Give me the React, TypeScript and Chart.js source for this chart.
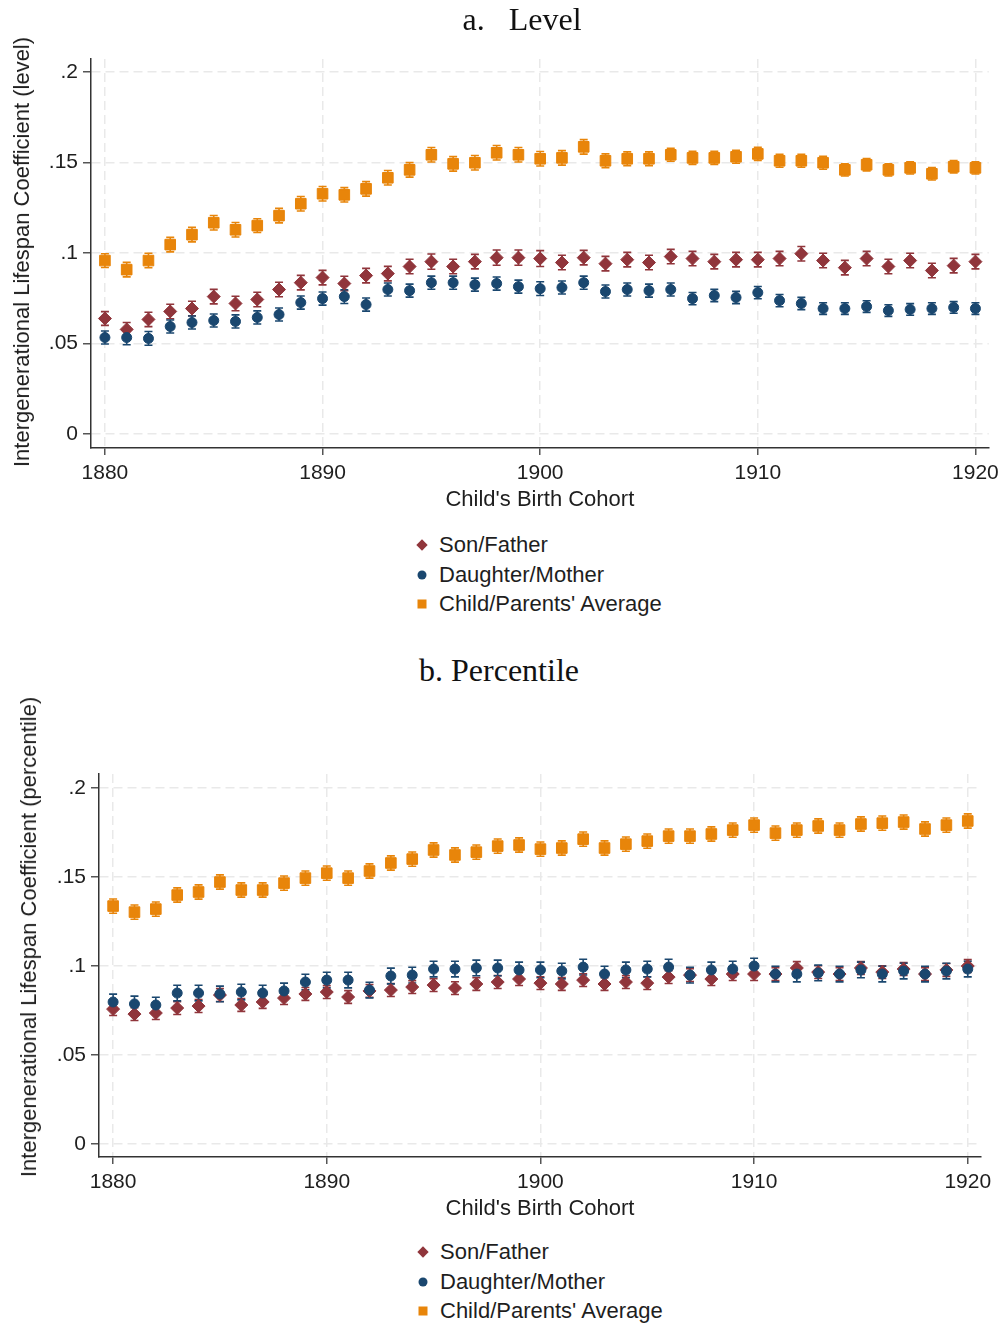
import React, { useEffect, useRef } from "react";
import { Chart, registerables } from "chart.js";

Chart.register(...registerables);

// ---------- data ----------
const YEARS = [
  1880, 1881, 1882, 1883, 1884, 1885, 1886, 1887, 1888, 1889,
  1890, 1891, 1892, 1893, 1894, 1895, 1896, 1897, 1898, 1899,
  1900, 1901, 1902, 1903, 1904, 1905, 1906, 1907, 1908, 1909,
  1910, 1911, 1912, 1913, 1914, 1915, 1916, 1917, 1918, 1919, 1920,
];

const SERIES_LABELS = ["Son/Father", "Daughter/Mother", "Child/Parents' Average"];

const X_TICKS = [1880, 1890, 1900, 1910, 1920];
const Y_TICKS = [0, 0.05, 0.1, 0.15, 0.2];
const Y_TICK_LABELS = ["0", ".05", ".1", ".15", ".2"];

const PANEL_TITLES = ["a.   Level", "b. Percentile"];
const Y_TITLES = [
  "Intergenerational Lifespan Coefficient (level)",
  "Intergenerational Lifespan Coefficient (percentile)",
];
const X_TITLE = "Child's Birth Cohort";

// Panel a: level
const LEVEL_SON = [
  0.0639, 0.0579, 0.0634, 0.0678, 0.0694, 0.076, 0.0722, 0.0744, 0.0799, 0.0837,
  0.0865, 0.0832, 0.0876, 0.0887, 0.0926, 0.0953, 0.0926, 0.0953, 0.0975, 0.0975,
  0.097, 0.0948, 0.0975, 0.0942, 0.0964, 0.0948, 0.0981, 0.097, 0.0953, 0.0964,
  0.0964, 0.097, 0.0997, 0.0959, 0.092, 0.097, 0.0926, 0.0959, 0.0904, 0.0931, 0.0953,
];
const LEVEL_DAUGHTER = [
  0.0534, 0.0534, 0.0529, 0.0595, 0.0617, 0.0628, 0.0623, 0.0645, 0.0661, 0.0727,
  0.0749, 0.076, 0.0716, 0.0799, 0.0793, 0.0837, 0.0837, 0.0826, 0.0832, 0.0815,
  0.0804, 0.081, 0.0837, 0.0788, 0.0799, 0.0793, 0.0799, 0.0749, 0.0766, 0.0755,
  0.0782, 0.0738, 0.0722, 0.0694, 0.0694, 0.0705, 0.0683, 0.0689, 0.0694, 0.07, 0.0694,
];
const LEVEL_AVG = [
  0.0959, 0.0909, 0.0959, 0.1047, 0.1102, 0.1168, 0.1129, 0.1152, 0.1207, 0.1273,
  0.1328, 0.1322, 0.1355, 0.1416, 0.146, 0.1543, 0.1493, 0.1499, 0.1554, 0.1543,
  0.1521, 0.1526, 0.1587, 0.151, 0.1521, 0.1521, 0.1543, 0.1526, 0.1526, 0.1532,
  0.1548, 0.151, 0.151, 0.1499, 0.146, 0.1488, 0.146, 0.1471, 0.1438, 0.1477, 0.1471,
];
const LEVEL_SON_ERR = [
  0.0038, 0.0038, 0.0040, 0.0040, 0.0040, 0.0040, 0.0040, 0.0040, 0.0040, 0.0040,
  0.0040, 0.0040, 0.0040, 0.0040, 0.0040, 0.0042, 0.0040, 0.0040, 0.0042, 0.0042,
  0.0044, 0.0040, 0.0040, 0.0040, 0.0040, 0.0040, 0.0040, 0.0040, 0.0040, 0.0040,
  0.0040, 0.0040, 0.0040, 0.0040, 0.0040, 0.0040, 0.0040, 0.0040, 0.0040, 0.0040, 0.0040,
];
const LEVEL_DAUGHTER_ERR = [
  0.0036, 0.0040, 0.0038, 0.0036, 0.0036, 0.0036, 0.0036, 0.0036, 0.0036, 0.0036,
  0.0036, 0.0038, 0.0036, 0.0036, 0.0036, 0.0036, 0.0036, 0.0036, 0.0036, 0.0036,
  0.0038, 0.0036, 0.0036, 0.0036, 0.0036, 0.0036, 0.0036, 0.0034, 0.0034, 0.0034,
  0.0034, 0.0034, 0.0034, 0.0032, 0.0032, 0.0032, 0.0032, 0.0032, 0.0032, 0.0032, 0.0032,
];
const LEVEL_AVG_ERR = [
  0.0038, 0.0040, 0.0040, 0.0040, 0.0040, 0.0040, 0.0040, 0.0038, 0.0040, 0.0040,
  0.0040, 0.0040, 0.0040, 0.0040, 0.0040, 0.0040, 0.0040, 0.0040, 0.0040, 0.0040,
  0.0040, 0.0040, 0.0040, 0.0038, 0.0038, 0.0038, 0.0036, 0.0036, 0.0036, 0.0036,
  0.0036, 0.0036, 0.0036, 0.0036, 0.0034, 0.0034, 0.0034, 0.0034, 0.0034, 0.0034, 0.0034,
];

// Panel b: percentile
const PCT_SON = [
  0.0758, 0.073, 0.0736, 0.0764, 0.0775, 0.0837, 0.0781, 0.0798, 0.082, 0.0843,
  0.0854, 0.0826, 0.086, 0.0865, 0.0882, 0.0893, 0.0876, 0.0899, 0.091, 0.0927,
  0.0904, 0.0899, 0.0921, 0.0899, 0.091, 0.0904, 0.0938, 0.0949, 0.0927, 0.0955,
  0.0955, 0.0955, 0.0989, 0.0966, 0.0955, 0.0989, 0.0966, 0.0983, 0.0955, 0.0978, 0.1,
];
const PCT_DAUGHTER = [
  0.0798, 0.0787, 0.0781, 0.0848, 0.0848, 0.0843, 0.0854, 0.0848, 0.086, 0.091,
  0.0921, 0.0921, 0.0865, 0.0944, 0.0949, 0.0983, 0.0983, 0.0989, 0.0989, 0.0978,
  0.0978, 0.0972, 0.0994, 0.0955, 0.0978, 0.0983, 0.0994, 0.0949, 0.0978, 0.0983,
  0.1, 0.0955, 0.0955, 0.0961, 0.0955, 0.0978, 0.0955, 0.0972, 0.0955, 0.0972, 0.0983,
];
const PCT_AVG = [
  0.1337, 0.1303, 0.132, 0.1399, 0.1416, 0.1472, 0.1427, 0.1427, 0.1466, 0.1494,
  0.1522, 0.1494, 0.1534, 0.1579, 0.1601, 0.1652, 0.1624, 0.164, 0.1674, 0.168,
  0.1657, 0.1663, 0.1713, 0.1663, 0.1685, 0.1702, 0.173, 0.173, 0.1742, 0.1764,
  0.1792, 0.1747, 0.1764, 0.1787, 0.1764, 0.1798, 0.1803, 0.1809, 0.177, 0.1792, 0.1815,
];
const PCT_SON_ERR = [
  0.0036, 0.0036, 0.0036, 0.0036, 0.0036, 0.0036, 0.0036, 0.0036, 0.0036, 0.0036,
  0.0036, 0.0036, 0.0036, 0.0036, 0.0036, 0.0036, 0.0036, 0.0036, 0.0036, 0.0036,
  0.0036, 0.0036, 0.0036, 0.0036, 0.0036, 0.0036, 0.0036, 0.0036, 0.0036, 0.0036,
  0.0036, 0.0036, 0.0036, 0.0036, 0.0036, 0.0036, 0.0036, 0.0036, 0.0036, 0.0036, 0.0036,
];
const PCT_DAUGHTER_ERR = [
  0.0044, 0.0044, 0.0044, 0.0044, 0.0044, 0.0044, 0.0044, 0.0044, 0.0044, 0.0044,
  0.0044, 0.0044, 0.0044, 0.0044, 0.0044, 0.0044, 0.0044, 0.0044, 0.0044, 0.0044,
  0.0044, 0.0044, 0.0044, 0.0044, 0.0044, 0.0044, 0.0044, 0.0044, 0.0044, 0.0044,
  0.0044, 0.0044, 0.0044, 0.0044, 0.0044, 0.0044, 0.0044, 0.0044, 0.0044, 0.0044, 0.0044,
];
const PCT_AVG_ERR = [
  0.0040, 0.0040, 0.0040, 0.0040, 0.0040, 0.0040, 0.0040, 0.0040, 0.0040, 0.0040,
  0.0040, 0.0040, 0.0040, 0.0040, 0.0040, 0.0040, 0.0040, 0.0040, 0.0040, 0.0040,
  0.0040, 0.0040, 0.0040, 0.0040, 0.0040, 0.0040, 0.0040, 0.0040, 0.0040, 0.0040,
  0.0040, 0.0040, 0.0040, 0.0040, 0.0040, 0.0040, 0.0040, 0.0040, 0.0040, 0.0040, 0.0040,
];

// ---------- styles ----------
const RED = "#90353B";
const BLUE = "#1A476F";
const ORANGE = "#E8850A";
const SERIES_COLORS = [RED, BLUE, ORANGE];
const SERIES_STYLES = ["rectRot", "circle", "rect"];
const SERIES_RADII = [6.5, 5, 7.5];

const SANS = "'Liberation Sans', Arial, Helvetica, sans-serif";
const SERIF = "'Liberation Serif', 'Times New Roman', serif";
const TEXT = "#1e1e1e";
const TICK_SIZE = 21;
const LABEL_SIZE = 22;

const errorBarPlugin = {
  id: "errorBars",
  beforeDatasetsDraw(chart: any) {
    const { ctx } = chart;
    const xs = chart.scales.x;
    const ys = chart.scales.y;
    chart.data.datasets.forEach((ds: any) => {
      const errs: number[] = ds.errors || [];
      ctx.save();
      ctx.strokeStyle = ds.borderColor;
      ctx.lineWidth = 1.6;
      ds.data.forEach((p: any, i: number) => {
        const e = errs[i];
        if (e == null) return;
        const px = xs.getPixelForValue(p.x);
        const top = ys.getPixelForValue(p.y + e);
        const bot = ys.getPixelForValue(p.y - e);
        const cap = 4;
        ctx.beginPath();
        ctx.moveTo(px, top);
        ctx.lineTo(px, bot);
        ctx.moveTo(px - cap, top);
        ctx.lineTo(px + cap, top);
        ctx.moveTo(px - cap, bot);
        ctx.lineTo(px + cap, bot);
        ctx.stroke();
      });
      ctx.restore();
    });
  },
};

type PanelSpec = {
  values: number[][];
  errors: number[][];
  xMin: number;
  xMax: number;
  yMin: number;
  yMax: number;
  padTop: number;
  padRight: number;
  yWidth: number;
};

function makeConfig(p: PanelSpec): any {
  const datasets = p.values.map((vals, k) => ({
    label: SERIES_LABELS[k],
    data: YEARS.map((yr, i) => ({ x: yr, y: vals[i] })),
    errors: p.errors[k],
    pointStyle: SERIES_STYLES[k],
    pointRadius: SERIES_RADII[k],
    pointBackgroundColor: SERIES_COLORS[k],
    pointBorderColor: SERIES_COLORS[k],
    borderColor: SERIES_COLORS[k],
    backgroundColor: SERIES_COLORS[k],
    pointBorderWidth: 1,
    showLine: false,
    order: [2, 1, 0][k],
  }));
  return {
    type: "scatter",
    data: { datasets },
    plugins: [errorBarPlugin],
    options: {
      responsive: false,
      animation: false,
      devicePixelRatio: 1,
      layout: { padding: { top: p.padTop, right: p.padRight, left: 0, bottom: 0 } },
      plugins: { legend: { display: false }, tooltip: { enabled: false }, title: { display: false } },
      scales: {
        x: {
          type: "linear",
          min: p.xMin,
          max: p.xMax,
          afterBuildTicks: (s: any) => {
            s.ticks = X_TICKS.map((v) => ({ value: v }));
          },
          afterFit: (s: any) => {
            s.height = 72;
          },
          ticks: {
            autoSkip: false,
            maxRotation: 0,
            padding: 6,
            color: TEXT,
            font: { family: SANS, size: TICK_SIZE },
            callback: (v: any) => String(v),
          },
          grid: {
            color: "#e9e9e9",
            lineWidth: 1.5,
            drawTicks: true,
            tickLength: 7,
            tickColor: "#555",
            tickWidth: 1.5,
          },
          border: { display: true, color: "#333", width: 1.5, dash: [9, 5] },
          title: {
            display: true,
            text: X_TITLE,
            color: TEXT,
            font: { family: SANS, size: LABEL_SIZE },
            padding: { top: 0, bottom: 7 },
          },
        },
        y: {
          type: "linear",
          min: p.yMin,
          max: p.yMax,
          afterBuildTicks: (s: any) => {
            s.ticks = Y_TICKS.map((v) => ({ value: v }));
          },
          afterFit: (s: any) => {
            s.width = p.yWidth;
          },
          ticks: {
            autoSkip: false,
            padding: 5,
            color: TEXT,
            font: { family: SANS, size: TICK_SIZE },
            callback: (v: any) => {
              const idx = Y_TICKS.findIndex((t) => Math.abs(t - v) < 1e-9);
              return idx >= 0 ? Y_TICK_LABELS[idx] : "";
            },
          },
          grid: {
            color: "#e9e9e9",
            lineWidth: 1.5,
            drawTicks: true,
            tickLength: 8,
            tickColor: "#555",
            tickWidth: 1.5,
          },
          border: { display: true, color: "#333", width: 1.5, dash: [9, 5] },
          title: { display: false },
        },
      },
    },
  };
}

function ChartCanvas({ spec, top, height }: { spec: PanelSpec; top: number; height: number }) {
  const ref = useRef<HTMLCanvasElement | null>(null);
  useEffect(() => {
    if (!ref.current) return;
    const chart = new Chart(ref.current, makeConfig(spec));
    return () => chart.destroy();
  }, []);
  return (
    <canvas
      ref={ref}
      width={1005}
      height={height}
      style={{ position: "absolute", left: 0, top, width: 1005, height, display: "block" }}
    />
  );
}

function Marker({ kind, color }: { kind: string; color: string }) {
  if (kind === "rectRot")
    return <div style={{ width: 8, height: 8, background: color, transform: "rotate(45deg)" }} />;
  if (kind === "circle")
    return <div style={{ width: 9, height: 9, background: color, borderRadius: "50%" }} />;
  return <div style={{ width: 9, height: 9, background: color }} />;
}

function Legend({ cx, textLeft, centers }: { cx: number; textLeft: number; centers: number[] }) {
  return (
    <>
      {SERIES_LABELS.map((lab, k) => (
        <React.Fragment key={lab}>
          <div
            style={{
              position: "absolute",
              left: cx,
              top: centers[k],
              transform: "translate(-50%, -50%)",
            }}
          >
            <Marker kind={SERIES_STYLES[k]} color={SERIES_COLORS[k]} />
          </div>
          <div
            style={{
              position: "absolute",
              left: textLeft,
              top: centers[k] - 13,
              fontFamily: SANS,
              fontSize: LABEL_SIZE,
              lineHeight: "26px",
              color: TEXT,
              whiteSpace: "nowrap",
            }}
          >
            {lab}
          </div>
        </React.Fragment>
      ))}
    </>
  );
}

function RotTitle({ text, cx, cy }: { text: string; cx: number; cy: number }) {
  return (
    <div
      style={{
        position: "absolute",
        left: cx,
        top: cy,
        transform: "translate(-50%, -50%) rotate(-90deg)",
        fontFamily: SANS,
        fontSize: LABEL_SIZE,
        lineHeight: "26px",
        color: TEXT,
        whiteSpace: "nowrap",
      }}
    >
      {text}
    </div>
  );
}

function PanelTitle({ text, cx, top }: { text: string; cx: number; top: number }) {
  return (
    <div
      style={{
        position: "absolute",
        left: cx,
        top,
        transform: "translateX(-50%)",
        fontFamily: SERIF,
        fontSize: 32,
        lineHeight: "32px",
        color: "#111",
        whiteSpace: "pre",
      }}
    >
      {text}
    </div>
  );
}

const LEVEL_SPEC: PanelSpec = {
  values: [LEVEL_SON, LEVEL_DAUGHTER, LEVEL_AVG],
  errors: [LEVEL_SON_ERR, LEVEL_DAUGHTER_ERR, LEVEL_AVG_ERR],
  xMin: 1879.36,
  xMax: 1920.61,
  yMin: -0.0076,
  yMax: 0.2072,
  padTop: 59,
  padRight: 14,
  yWidth: 91,
};

const PCT_SPEC: PanelSpec = {
  values: [PCT_SON, PCT_DAUGHTER, PCT_AVG],
  errors: [PCT_SON_ERR, PCT_DAUGHTER_ERR, PCT_AVG_ERR],
  xMin: 1879.34,
  xMax: 1920.62,
  yMin: -0.0073,
  yMax: 0.2079,
  padTop: 74,
  padRight: 24,
  yWidth: 99,
};

export default function App() {
  return (
    <div
      style={{
        position: "absolute",
        left: 0,
        top: 0,
        width: 1005,
        height: 1326,
        background: "#fff",
        overflow: "hidden",
      }}
    >
      <ChartCanvas spec={LEVEL_SPEC} top={0} height={520} />
      <ChartCanvas spec={PCT_SPEC} top={700} height={529} />
      <PanelTitle text={PANEL_TITLES[0]} cx={522} top={3} />
      <PanelTitle text={PANEL_TITLES[1]} cx={499} top={654} />
      <RotTitle text={Y_TITLES[0]} cx={22} cy={252} />
      <RotTitle text={Y_TITLES[1]} cx={29} cy={937} />
      <Legend cx={422} textLeft={439} centers={[544.5, 574.5, 603.5]} />
      <Legend cx={423} textLeft={440} centers={[1252, 1282, 1311]} />
    </div>
  );
}
